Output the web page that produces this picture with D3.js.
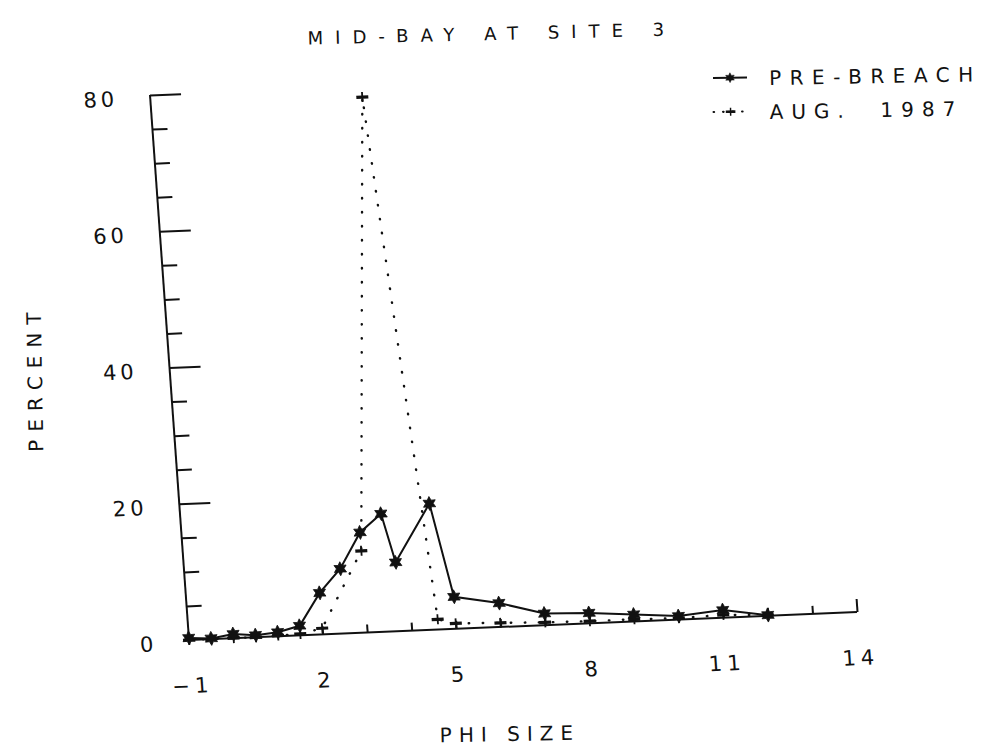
<!DOCTYPE html>
<html>
<head>
<meta charset="utf-8">
<script src="https://cdn.jsdelivr.net/npm/d3@7"></script>
<style>
  body { margin: 0; background: #fff; }
  svg { display: block; }
  text { font-family: "DejaVu Sans", "Liberation Sans", sans-serif; fill: #111; }
</style>
</head>
<body>
<svg id="chart" width="1005" height="748"></svg>
<script>
// Grain-size distribution, mid-bay at site 3
const phiPre = [-1, -0.5, 0, 0.5, 1, 1.5, 2, 2.5, 3, 3.5, 3.75, 4.6, 5, 6, 7, 8, 9, 10, 11, 12];
const pctPre = [0.3, 0.1, 0.6, 0.3, 0.6, 1.4, 6.1, 9.5, 14.7, 17.3, 10.1, 18.5, 4.7, 3.5, 1.7, 1.5, 1.0, 0.5, 1.1, 0.1];

const phiAug = [-1, -0.5, 0, 0.5, 1, 1.5, 2, 3, 3.75, 4.6, 5, 6, 7, 8, 9, 10, 11, 12];
const pctAug = [0, 0, 0, 0, 0.1, 0.2, 0.9, 12.0, 78.4, 1.5, 0.8, 0.6, 0.4, 0.3, 0.3, 0.2, 0.4, 0.1];

const xTickLabels = [-1, 2, 5, 8, 11, 14];
const xTicks = [0, 1, 2, 3, 4, 5, 6, 7, 8, 9, 10, 11, 12, 13, 14];
const yTickLabels = [0, 20, 40, 60, 80];
const yMinorTicks = [5, 10, 15, 25, 30, 35, 45, 50, 55, 65, 70, 75];
const yMajorTicks = [20, 40, 60, 80];

const seriesNames = ["PRE-BREACH", "AUG.  1987"];
const titleText = "MID-BAY AT SITE 3";
const xTitle = "PHI SIZE";
const yTitle = "PERCENT";

const W = 668, H = 545;
const ink = "#111";

const svg = d3.select("#chart");

// The plotted sheet is slightly sheared and rotated
const plot = svg.append("g")
  .attr("transform", "matrix(1,-0.0419,0.0716,1,150,95)");

const x = d3.scaleLinear().domain([-1, 14]).range([0, W]);
const y = d3.scaleLinear().domain([0, 80]).range([H, 0]);

function cleanAxis(g) {
  g.select(".domain").remove();
  g.attr("font-family", null).attr("font-size", null);
  g.selectAll(".tick line").attr("stroke", ink).attr("stroke-width", 2);
}

// axis lines
plot.append("line")
  .attr("x1", x(-1)).attr("y1", y(0)).attr("x2", x(-1)).attr("y2", y(80))
  .attr("stroke", ink).attr("stroke-width", 2);
plot.append("line")
  .attr("x1", x(-1)).attr("y1", y(0)).attr("x2", x(14)).attr("y2", y(0))
  .attr("stroke", ink).attr("stroke-width", 2);

// y ticks
plot.append("g").attr("transform", `translate(${x(-1)},0)`)
  .call(d3.axisRight(y).tickValues(yMinorTicks).tickSize(15).tickFormat(""))
  .call(cleanAxis);
plot.append("g").attr("transform", `translate(${x(-1)},0)`)
  .call(d3.axisRight(y).tickValues(yMajorTicks).tickSize(31).tickFormat(""))
  .call(cleanAxis);
plot.append("g").attr("transform", `translate(${x(-1)},0)`)
  .call(d3.axisLeft(y).tickValues(yTickLabels).tickSize(0).tickPadding(32).tickFormat(d3.format("d")))
  .call(cleanAxis)
  .call(g => g.selectAll("text")
    .attr("font-size", 21).attr("letter-spacing", 4).attr("dy", "0.45em"));

// x ticks
plot.append("g").attr("transform", `translate(0,${y(0)})`)
  .call(d3.axisTop(x).tickValues(xTicks).tickSize(8).tickFormat(""))
  .call(cleanAxis)
  .call(g => g.selectAll(".tick").filter(d => d === 14).select("line").attr("y2", -13));
plot.append("g").attr("transform", `translate(0,${y(0)})`)
  .call(d3.axisBottom(x).tickValues(xTickLabels).tickSize(0).tickPadding(38).tickFormat(d3.format("d")))
  .call(cleanAxis)
  .call(g => g.selectAll("text").attr("font-size", 21).attr("letter-spacing", 5));

// series lines
const preData = phiPre.map((p, i) => [p, pctPre[i]]);
const augData = phiAug.map((p, i) => [p, pctAug[i]]);
const line = d3.line().x(d => x(d[0])).y(d => y(d[1]));

plot.append("path").datum(augData)
  .attr("d", line).attr("fill", "none").attr("stroke", ink)
  .attr("stroke-width", 2.4).attr("stroke-linecap", "round")
  .attr("stroke-dasharray", "0.5 13.5");

plot.append("path").datum(preData)
  .attr("d", line).attr("fill", "none").attr("stroke", ink)
  .attr("stroke-width", 2);

// markers
const starPts = d3.range(12).map(i => {
  const a = i * Math.PI / 6 - Math.PI / 2;
  const r = i % 2 ? 3.8 : 7;
  return [r * Math.cos(a), r * Math.sin(a)];
});
const starPath = "M" + starPts.map(p => p.join(",")).join("L") + "Z";

function drawStar(g, cx, cy, s) {
  g.append("path").attr("d", starPath)
    .attr("transform", `translate(${cx},${cy}) scale(${s})`)
    .attr("fill", ink).attr("stroke", ink).attr("stroke-width", 0.8);
}
function drawPlus(g, cx, cy, s) {
  const m = g.append("g").attr("transform", `translate(${cx},${cy}) scale(${s})`);
  m.append("line").attr("x1", -6).attr("x2", 6).attr("y1", 0).attr("y2", 0)
    .attr("stroke", ink).attr("stroke-width", 3.2);
  m.append("line").attr("x1", 0).attr("x2", 0).attr("y1", -5).attr("y2", 5)
    .attr("stroke", ink).attr("stroke-width", 1.8);
}

augData.forEach(d => drawPlus(plot, x(d[0]), y(d[1]), 1));
preData.forEach(d => drawStar(plot, x(d[0]), y(d[1]), 1));

// title
svg.append("text")
  .attr("transform", "translate(492,40) rotate(-1.4)")
  .attr("text-anchor", "middle")
  .attr("font-size", 18).attr("letter-spacing", 12)
  .text(titleText);

// axis titles
svg.append("text")
  .attr("transform", "translate(510,741) rotate(-1)")
  .attr("text-anchor", "middle")
  .attr("font-size", 20).attr("letter-spacing", 7)
  .text(xTitle);

svg.append("text")
  .attr("transform", "translate(42,378) rotate(-91)")
  .attr("text-anchor", "middle")
  .attr("font-size", 20).attr("letter-spacing", 8)
  .text(yTitle);

// legend
const legend = svg.append("g").attr("transform", "translate(713,78) rotate(-1)");
legend.append("line").attr("x1", 0).attr("x2", 34).attr("y1", 0).attr("y2", 0)
  .attr("stroke", ink).attr("stroke-width", 2);
drawStar(legend, 17, 0, 0.7);
legend.append("text").attr("x", 56).attr("y", 8)
  .attr("font-size", 20).attr("letter-spacing", 8.5)
  .text(seriesNames[0]);

legend.append("line").attr("x1", 0).attr("x2", 34).attr("y1", 34).attr("y2", 34)
  .attr("stroke", ink).attr("stroke-width", 2.2).attr("stroke-linecap", "round")
  .attr("stroke-dasharray", "0.5 9");
drawPlus(legend, 17, 34, 0.8);
legend.append("text").attr("x", 56).attr("y", 42)
  .attr("font-size", 20).attr("letter-spacing", 8)
  .style("white-space", "pre")
  .text(seriesNames[1]);
</script>
</body>
</html>
